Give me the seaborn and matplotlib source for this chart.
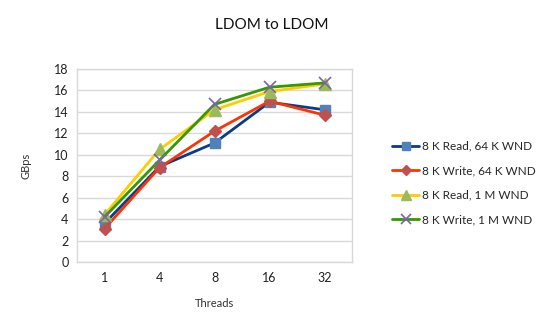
import matplotlib
matplotlib.use("Agg")
import matplotlib.pyplot as plt
import seaborn as sns
import pandas as pd
from matplotlib.lines import Line2D

threads = ["1", "4", "8", "16", "32"]
read_64k = [3.6, 8.9, 11.1, 14.9, 14.2]
write_64k = [3.1, 8.8, 12.2, 15.0, 13.7]
read_1m = [4.4, 10.5, 14.2, 15.9, 16.6]
write_1m = [4.2, 9.5, 14.7, 16.3, 16.7]
series_names = ["8 K Read, 64 K WND", "8 K Write, 64 K WND",
                "8 K Read, 1 M WND", "8 K Write, 1 M WND"]
yticks = [0, 2, 4, 6, 8, 10, 12, 14, 16, 18]

sns.set_theme(style="white")
plt.rcParams['font.family'] = ['Lato', 'DejaVu Sans']

styles = [
    dict(line="#0a3a8a", mfc="#4f81bd", mec="#4f81bd", marker="s", ms=7.5, mew=1.0),
    dict(line="#ff3300", mfc="#c0504d", mec="#c0504d", marker="D", ms=6.0, mew=1.0),
    dict(line="#ffcc00", mfc="#9bbb59", mec="#9bbb59", marker="^", ms=8.0, mew=1.0),
    dict(line="#339900", mfc="#8064a2", mec="#8064a2", marker="x", ms=8.0, mew=1.2),
]

fig = plt.figure(figsize=(5.48, 3.33), dpi=100)
ax = fig.add_axes([77/548, 1-262/333, (352-77)/548, (262-69)/333])

all_vals = [read_64k, write_64k, read_1m, write_1m]
handles = []
for name, vals, st in zip(series_names, all_vals, styles):
    df = pd.DataFrame({"Threads": threads, "GBps": vals})
    sns.lineplot(data=df, x="Threads", y="GBps", ax=ax, color=st["line"],
                 linewidth=2.0, sort=False, marker=st["marker"],
                 markersize=st["ms"], markerfacecolor=st["mfc"],
                 markeredgecolor=st["mec"], markeredgewidth=st["mew"], zorder=3)
    handles.append(Line2D([0], [0], color=st["line"], linewidth=2.0, marker=st["marker"],
                          markersize=st["ms"] * 0.85, markerfacecolor=st["mfc"],
                          markeredgecolor=st["mec"], markeredgewidth=st["mew"]))

ax.set_xlim(-0.5, 4.5)
ax.set_ylim(0, 18)
ax.set_yticks(yticks)
ax.set_yticklabels([str(v) for v in yticks])
ax.yaxis.grid(True, color="#d9d9d9", linewidth=1.0)
ax.set_axisbelow(True)
for s in ax.spines.values():
    s.set_color("#d9d9d9")
    s.set_linewidth(1.0)
ax.tick_params(axis="both", length=0, labelsize=9, colors="#222222")
ax.tick_params(axis="x", pad=7)
ax.tick_params(axis="y", pad=6)
ax.set_xlabel("Threads", fontsize=8, color="#333333", labelpad=10)
ax.set_ylabel("GBps", fontsize=8, color="#333333", labelpad=16)
fig.text(272/548, 1-25/333, "LDOM to LDOM", ha="center", va="center",
         fontsize=11, color="#111111")

fig.legend(handles, series_names, loc="center left",
           bbox_to_anchor=(392/548, 1-183/333), frameon=False, fontsize=8.5,
           handlelength=2.3, handletextpad=0.2, labelspacing=1.15, borderaxespad=0,
           borderpad=0)

fig.savefig("out.png", dpi=100, facecolor="white")
